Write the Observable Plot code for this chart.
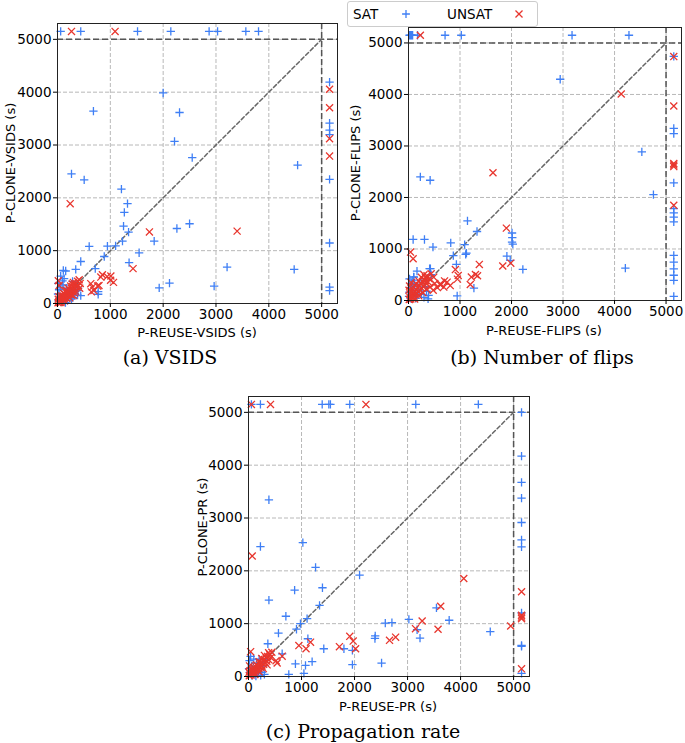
<!DOCTYPE html>
<html><head><meta charset="utf-8">
<script src="https://cdn.jsdelivr.net/npm/d3@7"></script>
<script src="https://cdn.jsdelivr.net/npm/@observablehq/plot@0.6"></script>
<style>
body{margin:0;background:#fff;}
#wrap{position:relative;width:685px;height:743px;font-family:"DejaVu Sans",sans-serif;color:#000;overflow:hidden;}
.panel{position:absolute;}
.lab{position:absolute;font-size:13px;line-height:1;white-space:nowrap;transform:translate(-50%,-50%);}
.ylab{position:absolute;font-size:13px;line-height:1;white-space:nowrap;transform:translate(-50%,-50%) rotate(-90deg);}
.cap{position:absolute;font-family:"DejaVu Serif",serif;font-size:19px;line-height:1;white-space:nowrap;transform:translate(-50%,-50%);}
#legend{position:absolute;left:347px;top:1px;width:189px;height:24px;border:1px solid #ccc;border-radius:3px;background:#fff;font-size:13.5px;}
#legend span{position:absolute;top:50%;transform:translateY(-50%);}
#legend svg{position:absolute;top:4px;}
</style></head>
<body><div id="wrap"></div>
<script>
const ticks = [0, 1000, 2000, 3000, 4000, 5000];
const limit = 5000;
const seriesNames = ["SAT", "UNSAT"];
const satColor = "#3f7ff5", unsatColor = "#e8362e";

// (a) VSIDS  [P-REUSE, P-CLONE]
const satVSIDS = [
  [60,5150],[440,5150],[1515,5150],[2145,5150],[2870,5150],[3030,5150],[3565,5150],[3805,5150],
  [5150,4190],[5150,3415],[5150,3280],[5150,3195],[5150,2350],[5150,1145],[5150,310],[5150,245],
  [680,3640],[2000,3985],[2310,3615],[2215,3070],[2550,2760],[265,2455],[505,2340],[4545,2620],
  [1210,2165],[1325,1890],[1265,1725],[1250,1465],[1345,1350],[2260,1420],[2500,1510],[1830,1180],
  [1230,1180],[1100,1090],[945,1085],[600,1080],[885,890],[1545,960],[1355,775],[3210,690],[4480,645],
  [440,795],[345,645],[155,615],[110,625],[715,660],[770,175],[770,225],[1925,295],[2120,385],[2965,330],
  [95,430],[60,310],[15,380],[30,260],[10,180],[45,120],[120,80],[20,50],[75,30],[190,60],[150,15],
  [290,110],[240,170],[340,230],[390,290],[175,290],[105,350],[125,470],[285,420],[215,240],[40,90],
  [330,190],[60,520],[265,85],[380,160],[380,250],[440,150],[160,120]
];
const unsatVSIDS = [
  [265,5150],[1090,5150],
  [5150,4055],[5150,3705],[5150,3120],[5150,2790],
  [240,1890],[1740,1355],[3400,1370],[1430,660],
  [850,545],[940,510],[1005,440],[1060,400],[630,375],[690,245],[660,310],[785,340],[1010,520],[820,500],[760,330],[640,220],
  [10,15],[25,40],[40,20],[55,70],[70,45],[85,110],[95,80],[110,140],[125,95],[140,170],[155,120],[170,200],
  [185,150],[200,230],[215,175],[230,260],[245,200],[260,290],[275,230],[290,320],[305,260],[320,350],
  [335,285],[350,380],[365,310],[380,420],[395,340],[410,450],[430,380],[300,400],[250,330],[200,290],
  [160,250],[120,190],[80,140],[45,110],[25,130],[15,80],[65,20],[180,90],[260,160],[340,230],[420,290],
  [230,110],[130,50],[320,200],[15,430],[30,340],[300,150],[350,320],[280,370],[180,210]
];

// (b) Number of flips
const satFlips = [
  [20,5150],[40,5150],[60,5150],[80,5150],[175,5150],[710,5150],[1025,5150],[3175,5150],[4280,5150],
  [5150,4740],[5150,3340],[5150,3240],[5150,2285],[5150,1785],[5150,1700],[5150,1620],[5150,1525],
  [5150,875],[5150,745],[5150,615],[5150,490],[5150,390],[5150,80],
  [2945,4295],[4530,2885],[4755,2055],[230,2400],[420,2335],[90,1185],[310,1185],[475,1035],[1145,1545],
  [1330,1340],[1090,1085],[820,1120],[1110,895],[870,870],[930,700],[425,620],[2010,1310],[2015,1220],
  [2010,1135],[2025,1095],[1910,860],[1975,780],[2220,605],[4210,630],[945,90],[1270,240],[1125,920],
  [165,570],[100,460],[85,395],[60,330],[30,250],[20,420],[50,150],[10,80],[120,300],[200,200],[250,120],
  [300,60],[350,180],[380,30],[140,40],[80,200],[440,500],[410,620],[150,100],[260,380],[40,40],[20,160],
  [70,270],[110,110],[330,270],[390,100],[103,453],[115,325]
];
const unsatFlips = [
  [230,5150],
  [5150,4735],[5150,3775],[5150,2660],[5150,2630],[5150,2600],[5150,1850],
  [4130,4010],[1640,2480],[1900,1405],[1830,670],[1985,725],[1375,700],[1300,505],[1220,455],[1200,310],
  [965,485],[910,600],[1340,480],[950,415],[810,290],[700,380],[620,300],[560,250],[40,940],[90,810],
  [15,20],[30,60],[45,30],[60,90],[75,50],[90,130],[105,80],[120,170],[135,110],[150,210],[165,140],
  [180,250],[195,170],[210,290],[225,200],[240,330],[255,240],[270,370],[285,270],[300,400],[315,300],
  [330,440],[345,330],[360,480],[380,360],[400,420],[250,450],[200,380],[150,320],[100,250],[60,180],
  [30,130],[20,280],[50,350],[10,200],[120,30],[200,90],[280,150],[350,220],[420,260],[480,200],[510,330],
  [490,453],[620,325],[685,260],[750,356],[330,389],[440,520],[300,500]
];

// (c) Propagation rate
const satPR = [
  [55,5150],[225,5150],[1390,5150],[1515,5150],[1545,5150],[1910,5150],[3155,5150],[4335,5150],
  [5150,5000],[5150,4170],[5150,3675],[5150,3375],[5150,2915],[5150,2585],[5150,2455],[5150,1205],
  [5150,590],[5150,570],[5150,60],
  [385,3345],[225,2460],[1025,2535],[1265,2065],[870,1635],[1395,1680],[2095,1920],[385,1445],[1340,1345],
  [705,1140],[1105,1095],[980,1000],[905,895],[565,820],[365,620],[1120,715],[2580,1010],[2705,1020],
  [3025,1080],[2390,770],[2385,720],[3235,725],[3545,1300],[3785,1065],[4560,850],[3180,885],[1420,525],
  [1800,525],[1960,495],[2510,255],[1960,225],[1200,280],[1075,210],[885,240],[760,40],[1045,60],[635,430],
  [30,80],[60,200],[90,120],[120,40],[150,250],[200,150],[250,80],[280,200],[320,320],[20,300],[40,380],
  [100,330],[180,60],[60,20],[10,150],[140,10],[230,20],[300,40],[200,330]
];
const unsatPR = [
  [55,5150],[415,5150],[2215,5150],
  [5150,1605],[5150,1160],[5150,1125],[5150,1095],[5150,145],
  [70,2280],[4060,1855],[3625,1330],[3275,1050],[3150,905],[3575,895],[2660,685],[2775,745],[1910,760],
  [1975,670],[2020,525],[1715,565],[950,585],[1085,525],[1170,650],[4945,955],[40,470],[540,255],[520,300],[635,385],
  [15,15],[30,50],[45,30],[60,80],[75,55],[90,110],[105,75],[120,140],[135,100],[150,170],[165,125],
  [180,200],[195,150],[210,230],[225,175],[240,260],[255,200],[270,290],[285,230],[300,320],[315,260],
  [330,350],[345,290],[360,380],[380,320],[400,420],[420,360],[440,460],[250,340],[200,280],[150,220],
  [100,170],[60,130],[30,110],[20,200],[10,80],[120,40],[200,90],[280,150],[350,220],[300,400],[380,450]
];

const panels = [
  {sat: satVSIDS, unsat: unsatVSIDS, xLabel: "P-REUSE-VSIDS (s)", yLabel: "P-CLONE-VSIDS (s)", caption: "(a) VSIDS",
   left: 0, top: 0, width: 345, height: 325, mL: 57, mR: 8, mT: 23, mB: 22,
   xl: [197, 332], yl: [10, 163], cap: [170, 357]},
  {sat: satFlips, unsat: unsatFlips, xLabel: "P-REUSE-FLIPS (s)", yLabel: "P-CLONE-FLIPS (s)", caption: "(b) Number of flips",
   left: 340, top: 0, width: 345, height: 322, mL: 68, mR: 4, mT: 27, mB: 22,
   xl: [544, 330], yl: [355, 163], cap: [542, 357]},
  {sat: satPR, unsat: unsatPR, xLabel: "P-REUSE-PR (s)", yLabel: "P-CLONE-PR (s)", caption: "(c) Propagation rate",
   left: 180, top: 380, width: 355, height: 318, mL: 68, mR: 6, mT: 16, mB: 22,
   xl: [388, 706], yl: [202, 527], cap: [363, 731]}
];

const wrap = document.getElementById("wrap");
const diag = [0, limit].map(v => ({x: v, y: v}));

for (const p of panels) {
  const chart = Plot.plot({
    width: p.width, height: p.height,
    marginLeft: p.mL, marginRight: p.mR, marginTop: p.mT, marginBottom: p.mB,
    x: {domain: [0, 5300], axis: null},
    y: {domain: [0, 5300], axis: null},
    style: {fontFamily: "DejaVu Sans", fontSize: "13px", color: "#000", background: "transparent", overflow: "visible"},
    marks: [
      Plot.gridX(ticks, {stroke: "#b0b0b0", strokeOpacity: 1, strokeWidth: 0.9, strokeDasharray: "4,2"}),
      Plot.gridY(ticks, {stroke: "#b0b0b0", strokeOpacity: 1, strokeWidth: 0.9, strokeDasharray: "4,2"}),
      Plot.ruleX([limit], {stroke: "#555", strokeWidth: 1.5, strokeDasharray: "6,3"}),
      Plot.ruleY([limit], {stroke: "#555", strokeWidth: 1.5, strokeDasharray: "6,3"}),
      Plot.line(diag, {x: "x", y: "y", stroke: "#666", strokeWidth: 1.5, strokeDasharray: "4,2.5"}),
      Plot.dot(p.sat, {x: d => d[0], y: d => d[1], symbol: "plus", r: 2.8, stroke: satColor, strokeWidth: 1.3, fill: "none"}),
      Plot.dot(p.unsat, {x: d => d[0], y: d => d[1], symbol: "times", r: 3.3, stroke: unsatColor, strokeWidth: 1.3, fill: "none"}),
      Plot.frame({stroke: "#222", strokeWidth: 1}),
      Plot.axisX(ticks, {tickFormat: d => String(d), tickSize: 4, tickPadding: 2, label: null, fontSize: 13.5}),
      Plot.axisY(ticks, {tickFormat: d => String(d), tickSize: 4, tickPadding: 2, label: null, fontSize: 13.5})
    ]
  });
  const holder = document.createElement("div");
  holder.className = "panel";
  holder.style.left = p.left + "px";
  holder.style.top = p.top + "px";
  holder.appendChild(chart);
  wrap.appendChild(holder);

  const xl = document.createElement("div");
  xl.className = "lab"; xl.textContent = p.xLabel;
  xl.style.left = p.xl[0] + "px"; xl.style.top = p.xl[1] + "px";
  wrap.appendChild(xl);
  const yl = document.createElement("div");
  yl.className = "ylab"; yl.textContent = p.yLabel;
  yl.style.left = p.yl[0] + "px"; yl.style.top = p.yl[1] + "px";
  wrap.appendChild(yl);
  const cap = document.createElement("div");
  cap.className = "cap"; cap.textContent = p.caption;
  cap.style.left = p.cap[0] + "px"; cap.style.top = p.cap[1] + "px";
  wrap.appendChild(cap);
}

// legend
const legend = document.createElement("div");
legend.id = "legend";
const legendItems = [
  {name: seriesNames[0], color: satColor, sym: d3.symbolPlus, size: 22, tx: 5, mx: 58},
  {name: seriesNames[1], color: unsatColor, sym: d3.symbolTimes, size: 34, tx: 99, mx: 171}
];
for (const it of legendItems) {
  const s = document.createElement("span");
  s.textContent = it.name; s.style.left = it.tx + "px";
  legend.appendChild(s);
  const svg = d3.create("svg").attr("width", 16).attr("height", 16)
    .style("left", (it.mx - 8) + "px");
  svg.append("path").attr("transform", "translate(8,8)")
    .attr("d", d3.symbol(it.sym, it.size)())
    .attr("fill", "none").attr("stroke", it.color).attr("stroke-width", 1.3);
  legend.appendChild(svg.node());
}
wrap.appendChild(legend);
</script>
</body></html>
